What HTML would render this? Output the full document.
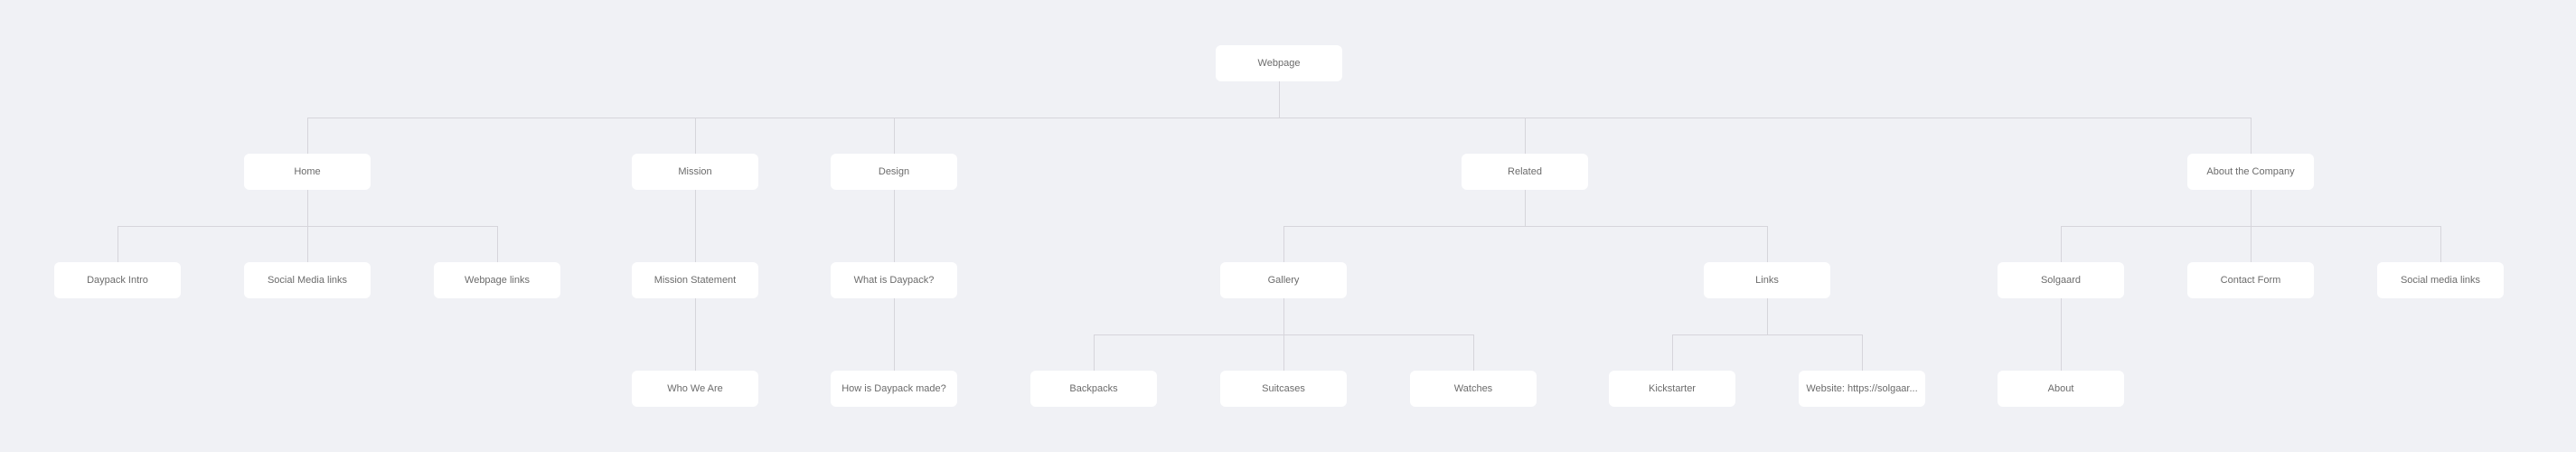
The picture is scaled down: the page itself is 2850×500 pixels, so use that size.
<!DOCTYPE html>
<html><head><meta charset="utf-8"><style>
html,body{margin:0;padding:0}
body{width:2850px;height:500px;background:#f0f1f5;position:relative;overflow:hidden;font-family:"Liberation Sans",sans-serif}
.n{position:absolute;width:140px;height:40px;background:#fff;border-radius:6px;display:flex;align-items:center;justify-content:center;font-size:11px;color:#6b6b6b;white-space:nowrap}
.h{position:absolute;height:1px;background:#d6d5db}
.v{position:absolute;width:1px;background:#d6d5db}
</style></head><body>
<div class="v" style="left:1415px;top:90px;height:40px"></div>
<div class="h" style="left:340px;top:130px;width:2151px"></div>
<div class="v" style="left:340px;top:130px;height:40px"></div>
<div class="v" style="left:769px;top:130px;height:40px"></div>
<div class="v" style="left:989px;top:130px;height:40px"></div>
<div class="v" style="left:1687px;top:130px;height:40px"></div>
<div class="v" style="left:2490px;top:130px;height:40px"></div>

<div class="v" style="left:340px;top:210px;height:80px"></div>
<div class="h" style="left:130px;top:250px;width:420px"></div>
<div class="v" style="left:130px;top:250px;height:40px"></div>
<div class="v" style="left:550px;top:250px;height:40px"></div>

<div class="v" style="left:769px;top:210px;height:80px"></div>
<div class="v" style="left:989px;top:210px;height:80px"></div>
<div class="v" style="left:769px;top:330px;height:80px"></div>
<div class="v" style="left:989px;top:330px;height:80px"></div>

<div class="v" style="left:1687px;top:210px;height:40px"></div>
<div class="h" style="left:1420px;top:250px;width:536px"></div>
<div class="v" style="left:1420px;top:250px;height:40px"></div>
<div class="v" style="left:1955px;top:250px;height:40px"></div>

<div class="v" style="left:2490px;top:210px;height:80px"></div>
<div class="h" style="left:2280px;top:250px;width:420px"></div>
<div class="v" style="left:2280px;top:250px;height:40px"></div>
<div class="v" style="left:2700px;top:250px;height:40px"></div>

<div class="v" style="left:1420px;top:330px;height:80px"></div>
<div class="h" style="left:1210px;top:370px;width:420px"></div>
<div class="v" style="left:1210px;top:370px;height:40px"></div>
<div class="v" style="left:1630px;top:370px;height:40px"></div>

<div class="v" style="left:1955px;top:330px;height:40px"></div>
<div class="h" style="left:1850px;top:370px;width:210px"></div>
<div class="v" style="left:1850px;top:370px;height:40px"></div>
<div class="v" style="left:2060px;top:370px;height:40px"></div>

<div class="v" style="left:2280px;top:330px;height:80px"></div>

<div class="n" style="left:1345px;top:50px">Webpage</div>

<div class="n" style="left:270px;top:170px">Home</div>
<div class="n" style="left:699px;top:170px">Mission</div>
<div class="n" style="left:919px;top:170px">Design</div>
<div class="n" style="left:1617px;top:170px">Related</div>
<div class="n" style="left:2420px;top:170px">About the Company</div>

<div class="n" style="left:60px;top:290px">Daypack Intro</div>
<div class="n" style="left:270px;top:290px">Social Media links</div>
<div class="n" style="left:480px;top:290px">Webpage links</div>
<div class="n" style="left:699px;top:290px">Mission Statement</div>
<div class="n" style="left:919px;top:290px">What is Daypack?</div>
<div class="n" style="left:1350px;top:290px">Gallery</div>
<div class="n" style="left:1885px;top:290px">Links</div>
<div class="n" style="left:2210px;top:290px">Solgaard</div>
<div class="n" style="left:2420px;top:290px">Contact Form</div>
<div class="n" style="left:2630px;top:290px">Social media links</div>

<div class="n" style="left:699px;top:410px">Who We Are</div>
<div class="n" style="left:919px;top:410px">How is Daypack made?</div>
<div class="n" style="left:1140px;top:410px">Backpacks</div>
<div class="n" style="left:1350px;top:410px">Suitcases</div>
<div class="n" style="left:1560px;top:410px">Watches</div>
<div class="n" style="left:1780px;top:410px">Kickstarter</div>
<div class="n" style="left:1990px;top:410px">Website: https://solgaar...</div>
<div class="n" style="left:2210px;top:410px">About</div>
</body></html>
